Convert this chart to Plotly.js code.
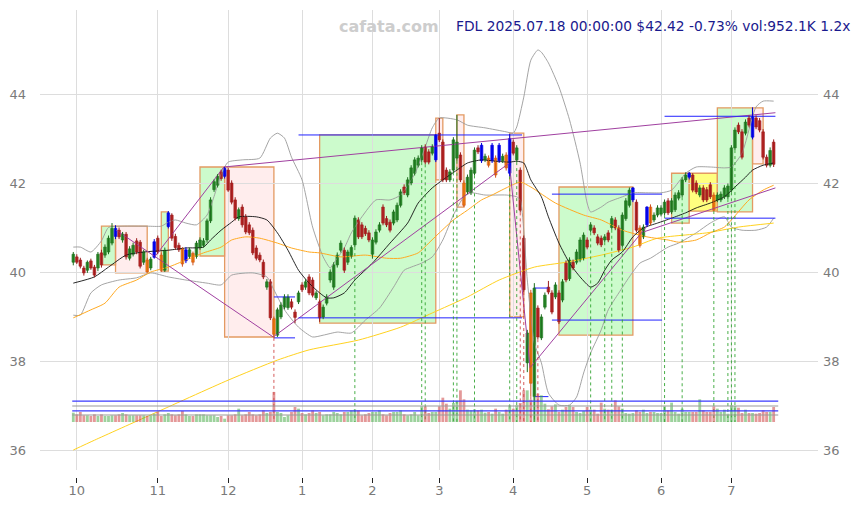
<!DOCTYPE html>
<html><head><meta charset="utf-8">
<script src="https://cdn.plot.ly/plotly-3.0.1.min.js"></script>
<style>html,body{margin:0;padding:0;background:#fff}#chart{width:858px;height:505px}</style>
</head><body><div id="chart"></div>
<script>
// ---------- data (index 0 = 2024-09-30, one entry per trading day) ----------
const monthTickIdx = [1,24,44,65,85,104,125,146,167,187];
const monthLabels  = ['10','11','12','1','2','3','4','5','6','7'];
const priceTicks   = [36,38,40,42,44];

const openP = [
40.22,40.34,40.27,40.09,40.04,40.25,40.11,40.09,40.43,40.38,
40.45,40.65,40.98,40.94,40.72,40.85,40.31,40.40,40.70,40.67,
40.22,40.27,40.09,40.33,40.76,40.38,40.04,41.02,41.28,40.80,
40.60,40.52,40.25,40.35,40.42,40.35,40.55,40.60,40.72,41.15,
41.85,41.95,42.25,42.15,42.29,42.00,41.62,41.20,41.46,41.24,
41.06,40.94,40.54,40.38,40.22,39.66,39.78,38.95,38.58,38.99,
39.21,39.20,39.33,39.10,39.33,39.71,39.66,39.89,39.82,39.42,
39.33,38.99,39.30,39.82,39.66,40.16,40.49,40.49,40.22,40.35,
40.61,41.17,41.06,40.98,40.88,40.40,40.67,40.94,41.46,41.20,
41.12,41.10,41.17,41.50,41.91,41.73,42.00,42.22,42.40,42.52,
42.81,42.70,42.67,42.52,43.12,42.92,42.29,42.07,42.29,42.56,
42.63,42.00,41.80,41.78,42.22,42.79,42.50,42.52,42.56,42.50,
42.56,42.50,42.50,42.63,42.22,42.92,42.52,42.29,40.76,37.96,
39.53,37.20,39.19,38.52,39.21,39.66,39.53,39.44,39.53,39.37,
40.20,39.85,40.22,40.22,40.27,40.31,40.72,40.94,40.99,40.79,
40.76,40.72,40.88,41.00,41.17,40.99,40.60,41.20,41.50,41.62,
41.57,40.99,40.79,41.06,41.46,41.17,41.28,41.30,41.33,41.60,
41.35,41.40,41.66,41.73,42.07,42.13,42.18,42.00,41.73,41.89,
41.85,41.96,41.73,41.62,41.62,41.69,41.69,41.84,42.79,43.30,
43.15,43.12,43.46,43.03,43.46,43.40,43.15,42.58,42.40,42.92];
const highP = [
40.45,40.40,40.32,40.14,40.26,40.30,40.16,40.45,40.50,40.62,
40.82,41.10,41.05,41.00,40.90,40.90,40.58,40.66,40.76,40.72,
40.50,40.32,40.34,40.74,40.82,40.44,40.55,41.37,41.32,40.86,
40.66,40.56,40.56,40.55,40.46,40.70,40.78,40.76,41.20,41.68,
42.08,42.20,42.30,42.36,42.35,42.06,41.68,41.45,41.52,41.30,
41.12,41.00,40.60,40.44,40.28,39.84,39.84,39.00,39.20,39.32,
39.50,39.50,39.40,39.16,39.58,39.77,39.84,39.95,39.88,39.58,
39.38,39.27,39.50,40.06,40.22,40.44,40.71,40.55,40.50,40.60,
41.27,41.23,41.12,41.04,40.94,40.78,40.96,41.12,41.52,41.26,
41.18,41.40,41.56,41.86,41.97,42.13,42.40,42.58,42.62,42.85,
42.87,42.76,42.87,43.10,43.46,42.98,42.35,42.31,43.03,43.53,
42.69,42.06,42.19,42.35,42.80,42.85,42.90,42.66,42.62,42.90,
42.62,42.90,42.66,42.69,43.10,42.98,42.85,42.35,40.82,38.70,
39.60,39.75,39.25,39.05,39.54,39.80,39.59,39.77,39.59,39.84,
40.26,40.33,40.28,40.51,40.78,40.89,40.78,41.12,41.05,40.85,
40.82,40.85,40.94,41.26,41.23,41.05,41.34,41.66,41.90,41.91,
41.63,41.05,41.07,41.48,41.52,41.34,41.50,41.50,41.63,41.66,
41.66,41.79,41.84,42.13,42.24,42.25,42.22,42.06,41.95,41.95,
41.91,42.02,41.79,41.79,41.81,41.95,41.99,42.85,43.25,43.36,
43.21,43.43,43.52,43.70,43.52,43.46,43.21,42.64,42.80,42.98];
const lowP = [
40.15,40.18,40.08,39.92,39.98,40.05,39.88,40.02,40.10,40.32,
40.40,40.60,40.74,40.74,40.66,40.28,40.26,40.35,40.40,40.08,
40.16,39.98,40.04,40.30,40.40,40.00,40.00,40.98,40.70,40.50,
40.45,40.12,40.20,40.30,40.15,40.30,40.50,40.55,40.66,41.10,
41.80,41.90,42.05,42.10,41.80,41.52,41.16,41.15,41.00,40.85,
40.83,40.38,40.26,40.22,39.84,39.60,38.92,38.52,38.54,38.94,
39.16,39.15,39.16,38.85,39.28,39.55,39.60,39.48,39.43,39.37,
38.88,38.94,39.25,39.76,39.60,40.10,40.44,39.98,40.16,40.30,
40.56,40.74,40.74,40.81,40.67,40.30,40.62,40.89,41.05,41.01,
40.89,41.05,41.12,41.45,41.73,41.68,41.95,42.17,42.35,42.47,
42.42,42.42,42.62,42.47,42.92,42.02,42.02,42.02,42.24,42.50,
42.02,41.46,41.75,41.73,42.17,42.65,42.45,42.47,42.35,42.45,
42.12,42.45,42.45,42.28,42.15,42.62,42.47,41.34,39.55,37.75,
37.20,36.68,38.49,38.47,39.16,39.50,39.05,39.39,38.83,39.32,
39.77,39.80,40.04,40.17,40.22,40.26,40.51,40.89,40.83,40.60,
40.56,40.67,40.67,40.95,40.94,40.44,40.55,41.15,41.45,41.57,
40.89,40.55,40.74,41.01,41.05,41.12,41.23,41.25,41.28,41.28,
41.30,41.35,41.61,41.68,42.02,42.08,41.79,41.75,41.68,41.57,
41.57,41.64,41.37,41.57,41.57,41.64,41.64,41.79,42.74,43.10,
42.53,43.07,43.25,42.98,43.21,43.14,42.53,42.35,42.35,42.36];
const closeP = [
40.40,40.22,40.13,39.98,40.22,40.09,39.93,40.40,40.16,40.56,
40.76,40.98,40.80,40.79,40.85,40.34,40.52,40.60,40.45,40.13,
40.45,40.00,40.29,40.68,40.45,40.04,40.49,41.33,40.76,40.55,
40.50,40.18,40.50,40.50,40.22,40.65,40.72,40.70,41.15,41.62,
42.03,42.15,42.10,42.33,41.84,41.57,41.21,41.40,41.06,40.90,
40.88,40.43,40.31,40.27,39.89,39.78,38.97,38.60,39.15,39.26,
39.44,39.44,39.21,38.98,39.53,39.60,39.78,39.53,39.48,39.53,
38.97,39.21,39.44,40.00,40.16,40.38,40.65,40.04,40.45,40.55,
41.21,40.79,40.79,40.86,40.72,40.72,40.90,41.06,41.10,41.06,
40.94,41.35,41.50,41.80,41.78,42.07,42.34,42.52,42.56,42.79,
42.47,42.47,42.81,43.08,42.97,42.07,42.07,42.25,42.97,42.92,
42.07,41.50,42.13,42.29,42.74,42.70,42.85,42.60,42.40,42.85,
42.18,42.85,42.60,42.34,43.00,42.67,42.79,41.39,39.60,38.63,
37.50,39.64,38.54,38.99,39.48,39.55,39.10,39.71,38.88,39.78,
39.82,40.27,40.09,40.45,40.72,40.83,40.56,41.06,40.88,40.65,
40.61,40.79,40.72,41.20,40.99,40.49,41.28,41.60,41.84,41.89,
40.94,40.60,41.01,41.46,41.10,41.28,41.44,41.44,41.57,41.33,
41.60,41.73,41.78,42.07,42.18,42.22,41.84,41.80,41.89,41.62,
41.62,41.69,41.39,41.73,41.75,41.89,41.93,42.79,43.19,43.15,
42.58,43.37,43.30,43.50,43.26,43.19,42.58,42.40,42.73,42.42];
// volume in thousands of shares
const volumeK = [
593,487,635,423,423,381,487,381,487,381,
381,423,423,487,572,487,423,423,423,423,
423,381,423,529,635,381,487,572,487,423,
487,699,487,381,381,487,487,487,423,423,
423,318,381,212,423,423,487,847,423,487,
635,487,423,487,741,572,635,1905,635,572,
318,423,635,953,847,572,487,572,741,572,
635,423,487,487,635,572,487,635,635,741,
783,741,423,487,572,635,635,741,487,423,
572,635,635,741,487,423,487,635,423,995,
995,572,635,635,995,1545,1164,847,1207,1312,
2011,1440,783,741,804,741,783,593,635,529,
847,635,529,783,1058,847,1058,1207,2011,2011,
1418,1630,1800,1694,1164,804,995,1122,635,783,
953,1058,953,635,572,699,953,783,783,529,
1228,847,783,783,1376,995,847,572,529,572,
741,635,783,572,635,635,572,572,995,741,
1228,635,529,847,635,635,635,635,1440,741,
635,635,995,847,635,783,529,1058,1016,910,
572,783,572,572,529,572,741,635,635,953];

// highlighted candles
const blueIdx   = [12,23,27,32,43,103,116,119,121,124,159,163,175,193];
const orangeIdx = [21,25,31,34,57,111,118,120,123,130,161,164,182];
// signal markers (dotted verticals)
const greenSignals = [80,99,100,108,109,114,124,126,131,147,151,153,156,168,173,182,186,187,188];
const redSignals   = [57,127,128,130,132];

// indicator readings (day index, value)
const maShortX = [0,6,10,15,20,27,32,37,39,42,45,47,52,55,58,61,64,67,70,72,74,77,80,85,90,95,98,102,105,109,112,116,120,124,126,128,130,133,135,138,141,144,147,149,151,153,156,159,162,166,170,174,177,181,185,188,191,193,196,199];
const maShortY = [39.75,39.89,40.11,40.38,40.45,40.49,40.54,40.56,40.72,40.94,41.12,41.24,41.24,41.17,40.88,40.49,40.04,39.75,39.53,39.42,39.42,39.53,39.82,40.2,40.65,41.1,41.55,41.89,42.07,42.29,42.45,42.52,42.49,42.47,42.49,42.45,42.07,41.69,41.24,40.65,40.2,39.89,39.66,39.75,40.04,40.27,40.45,40.79,40.99,41.1,41.21,41.33,41.44,41.55,41.69,41.91,42.13,42.29,42.4,42.45];
const maMidX = [0,5,9,13,18,22,27,32,37,42,45,49,53,58,62,67,70,76,83,89,93,98,101,104,108,112,116,119,123,127,130,137,145,150,156,163,169,172,177,181,185,187,192,196,199];
const maMidY = [38.97,39.15,39.3,39.66,39.82,40.0,40.11,40.27,40.43,40.56,40.72,40.79,40.76,40.65,40.54,40.45,40.43,40.34,40.38,40.31,40.31,40.43,40.65,40.88,41.17,41.39,41.62,41.73,41.89,42.02,41.91,41.55,41.28,41.17,40.94,40.79,40.72,40.67,40.72,40.88,41.01,41.17,41.62,41.84,41.95];
const maLongX = [0,6,22,44,58,67,81,93,102,112,121,131,140,150,159,166,180,189,199];
const maLongY = [36.0,36.22,36.79,37.57,38.02,38.25,38.47,38.76,39.08,39.44,39.82,40.11,40.22,40.38,40.56,40.76,40.88,41.01,41.1];
const bandUpX = [0,2,5,8,10,14,21,25,27,29,32,35,38,40,42,44,48,53,56,58,60,62,65,68,71,73,74,77,79,82,86,90,93,97,100,102,104,109,112,117,123,125,126,128,130,132,133,135,138,141,144,146,147,150,152,156,159,163,167,170,174,177,181,185,187,190,194,196,199];
const bandUpY = [40.56,40.56,40.45,40.7,41.0,41.03,41.03,41.03,41.12,41.17,41.1,41.06,41.28,41.7,42.2,42.47,42.52,42.56,43.01,43.12,43.01,42.58,42.07,41.01,40.34,40.09,40.2,40.54,40.88,41.24,41.62,41.62,41.73,42.2,42.81,43.24,43.46,43.42,43.3,43.24,43.15,43.12,43.26,43.93,44.76,44.99,44.94,44.7,44.16,43.42,42.45,41.55,41.35,41.46,41.57,41.69,41.78,41.78,41.78,41.84,42.22,42.36,42.36,42.34,42.36,42.67,43.71,43.84,43.84];
const bandLoX = [0,2,5,8,13,18,22,27,32,38,42,45,51,55,57,60,64,68,71,75,79,83,87,91,94,96,99,102,105,108,111,113,117,123,126,127,129,131,133,135,138,141,143,145,147,150,152,155,158,161,164,169,172,177,181,185,187,190,194,197,199];
const bandLoY = [39.03,39.03,39.53,39.71,39.82,39.87,39.98,39.89,39.82,39.75,39.71,39.93,39.98,39.89,39.6,39.15,38.76,38.54,38.58,38.65,38.63,38.92,39.19,39.66,40.04,40.11,40.2,40.34,40.72,41.28,41.69,41.78,41.73,41.73,41.69,41.62,39.82,38.4,37.96,37.28,37.01,37.01,37.19,37.73,38.18,38.7,39.15,39.53,39.89,40.2,40.31,40.56,40.65,40.88,41.1,41.24,41.01,40.94,40.94,41.01,41.21];

// range boxes
const boxStart  = [8,12,25,36,43,70,103,109,124,138,170,175,183,193];
const boxEnd    = [12,21,27,43,57,103,105,111,128,159,175,183,193,196];
const boxTop    = [41.03,41.03,41.35,42.36,42.36,43.08,43.46,43.53,43.12,41.91,42.22,42.22,43.69,43.69];
const boxBottom = [40.16,39.98,40.02,40.36,38.54,38.85,42.07,41.46,38.99,38.58,41.10,41.37,41.35,42.43];
const boxKind   = ['up','down','up','up','down','up','down','down','down','up','up','flat','up','down'];

// support / resistance levels
const levelValue = [39.44,38.52,43.08,38.97,39.64,37.20,41.75,38.92,43.50,41.21];
const levelStart = [57,57,64,64,131,131,136,136,168,168];
const levelEnd   = [63,63,127.5,127.5,135,135,167.3,167.3,199.5,199.5];

// trend lines
const trendX0 = [12.2,23.2,42.8,56.8,123.9,129.8,162];
const trendY0 = [40.94,40.35,42.36,38.54,42.45,37.85,40.90];
const trendX1 = [56.8,42.8,199.5,123.9,129.8,163.3,199.5];
const trendY1 = [38.54,42.36,43.58,42.45,37.85,41.06,41.89];

// volume reference levels (thousands)
const volLevelBlue = [1330,700];
const volLevelGray = [1015,445];

const titleText = 'FDL 2025.07.18 00:00:00 $42.42 -0.73% vol:952.1K 1.2x';

// ---------- chart ----------
const X_RANGE = [-9.46, 211.6];
const Y_RANGE = [35.551, 45.888];
const VOL_RANGE = [-3048, 26162];
const volFrac = -VOL_RANGE[0]/(VOL_RANGE[1]-VOL_RANGE[0]);
const volBasePrice = Y_RANGE[0] + volFrac*(Y_RANGE[1]-Y_RANGE[0]);

const N = closeP.length;
const blueSet = new Set(blueIdx), orangeSet = new Set(orangeIdx);
function kindOf(i){
  if (blueSet.has(i)) return 'blue';
  if (orangeSet.has(i)) return 'orange';
  return closeP[i] >= openP[i] ? 'green' : 'red';
}
const styles = {
  green: {fill:'#2f9a2f', edge:'#1d6e1d'},
  red:   {fill:'#c62a2a', edge:'#9b1b1b'},
  blue:  {fill:'#0a0aff', edge:'#0000dd'},
  orange:{fill:'#ff9c00', edge:'#d0501a'}
};

const traces = [];
function curve(xs, ys, color, width){
  return {type:'scatter', mode:'lines', x:xs, y:ys, hoverinfo:'skip', showlegend:false,
          line:{color:color, width:width, shape:'spline', smoothing:0.6}};
}
traces.push(curve(bandUpX, bandUpY, '#9a9a9a', 0.9));
traces.push(curve(bandLoX, bandLoY, '#9a9a9a', 0.9));
traces.push(curve(maLongX, maLongY, '#ffd21f', 1));
traces.push(curve(maMidX, maMidY, '#ffaa22', 1));
traces.push(curve(maShortX, maShortY, '#111111', 0.9));

// trend lines
{
  const xs=[], ys=[];
  for (let k=0;k<trendX0.length;k++){ xs.push(trendX0[k],trendX1[k],null); ys.push(trendY0[k],trendY1[k],null); }
  traces.push({type:'scatter', mode:'lines', x:xs, y:ys, hoverinfo:'skip', line:{color:'#a040a0', width:1}});
}
// levels
{
  const xs=[], ys=[];
  for (let k=0;k<levelValue.length;k++){ xs.push(levelStart[k],levelEnd[k],null); ys.push(levelValue[k],levelValue[k],null); }
  traces.push({type:'scatter', mode:'lines', x:xs, y:ys, hoverinfo:'skip', line:{color:'#2222ff', width:1}});
}
// signal dotted lines
function signalTrace(list, color){
  const xs=[], ys=[];
  list.forEach(i=>{ xs.push(i,i,null); ys.push(lowP[i], volBasePrice, null); });
  return {type:'scatter', mode:'lines', x:xs, y:ys, hoverinfo:'skip', line:{color:color, width:1, dash:'dot'}};
}
traces.push(signalTrace(greenSignals, 'rgba(40,160,40,0.85)'));
traces.push(signalTrace(redSignals, 'rgba(205,60,60,0.85)'));

// candles
['green','red','orange','blue'].forEach(kind=>{
  const ids = [];
  for (let i=0;i<N;i++) if (kindOf(i)===kind) ids.push(i);
  const wx=[], wy=[];
  ids.forEach(i=>{ wx.push(i,i,null); wy.push(lowP[i],highP[i],null); });
  traces.push({type:'scatter', mode:'lines', x:wx, y:wy, hoverinfo:'skip', line:{color:styles[kind].edge, width:1}});
  traces.push({type:'bar', x:ids,
    base: ids.map(i=>Math.min(openP[i],closeP[i])),
    y: ids.map(i=>Math.max(Math.abs(closeP[i]-openP[i]),0.02)),
    width:0.75, hoverinfo:'skip',
    marker:{color:styles[kind].fill, line:{color:styles[kind].edge, width:0.6}}});
});

// volume
{
  const xs=[...Array(N).keys()];
  traces.push({type:'bar', x:xs, y:volumeK, yaxis:'y3', width:0.8, hoverinfo:'skip',
    marker:{color:xs.map(i=>closeP[i]>=openP[i]?'rgba(60,165,60,0.5)':'rgba(205,70,70,0.55)'), line:{width:0}}});
  const lx=[], ly=[];
  volLevelBlue.forEach(v=>{ lx.push(-0.3,N+0.3,null); ly.push(v,v,null); });
  traces.push({type:'scatter', mode:'lines', x:lx, y:ly, yaxis:'y3', hoverinfo:'skip', line:{color:'#3a3aff', width:1.2}});
  const gx=[], gy=[];
  volLevelGray.forEach(v=>{ gx.push(-0.3,N+0.3,null); gy.push(v,v,null); });
  traces.push({type:'scatter', mode:'lines', x:gx, y:gy, yaxis:'y3', hoverinfo:'skip', line:{color:'#999999', width:1.2}});
}
// helper traces to activate secondary axes
traces.push({type:'scatter', mode:'markers', x:[0], y:[40], xaxis:'x2', marker:{opacity:0}, hoverinfo:'skip'});
traces.push({type:'scatter', mode:'markers', x:[0], y:[40], yaxis:'y2', marker:{opacity:0}, hoverinfo:'skip'});

const boxFill = {up:'rgba(0,235,0,0.2)', down:'rgba(255,190,190,0.28)', flat:'rgba(255,255,0,0.5)'};
const shapes = boxStart.map((s,k)=>({
  type:'rect', xref:'x', yref:'y', x0:s, x1:boxEnd[k], y0:boxBottom[k], y1:boxTop[k],
  fillcolor:boxFill[boxKind[k]], line:{color:'#e39a62', width:1.3}, layer:'below'
}));

const tickFont = {family:'DejaVu Sans, sans-serif', size:13, color:'#7a7a7a'};
const layout = {
  width:858, height:505,
  margin:{l:40, r:40, t:10, b:28},
  paper_bgcolor:'#ffffff', plot_bgcolor:'#ffffff',
  showlegend:false, barmode:'overlay', hovermode:false,
  xaxis:{range:X_RANGE, tickvals:monthTickIdx, showticklabels:false, ticks:'',
         showgrid:true, gridcolor:'#dddddd', gridwidth:1, zeroline:false, showline:false},
  xaxis2:{overlaying:'x', anchor:'free', position:0, range:X_RANGE,
          tickvals:monthTickIdx, ticktext:monthLabels, ticks:'outside', ticklen:5, tickwidth:1,
          tickcolor:'#222', showgrid:false, zeroline:false, showline:false, tickfont:tickFont,
          ticklabelstandoff:-4},
  yaxis:{domain:[0.015,1], range:Y_RANGE, tickvals:priceTicks, ticks:'',
         showgrid:true, gridcolor:'#dddddd', gridwidth:1, zeroline:false, showline:false,
         tickfont:tickFont, ticklabelstandoff:13},
  yaxis2:{overlaying:'y', side:'right', range:Y_RANGE, tickvals:priceTicks, ticks:'',
          showgrid:false, zeroline:false, showline:false, tickfont:tickFont, ticklabelstandoff:4},
  yaxis3:{overlaying:'y', range:VOL_RANGE, visible:false, showgrid:false, zeroline:false},
  shapes: shapes,
  annotations:[
    {xref:'paper', yref:'paper', x:0.4486, y:0.9657, xanchor:'center', yanchor:'middle', showarrow:false,
     text:'<b>cafata.com</b>', font:{family:'DejaVu Sans, sans-serif', size:16, color:'#cdcdcd'}},
    {xref:'paper', yref:'paper', x:0.532, y:0.9657, xanchor:'left', yanchor:'middle', showarrow:false,
     text:titleText, font:{family:'DejaVu Sans, sans-serif', size:13.8, color:'#1a1a8e'}}
  ]
};
Plotly.newPlot('chart', traces, layout, {staticPlot:true, displayModeBar:false});
</script>
</body></html>
